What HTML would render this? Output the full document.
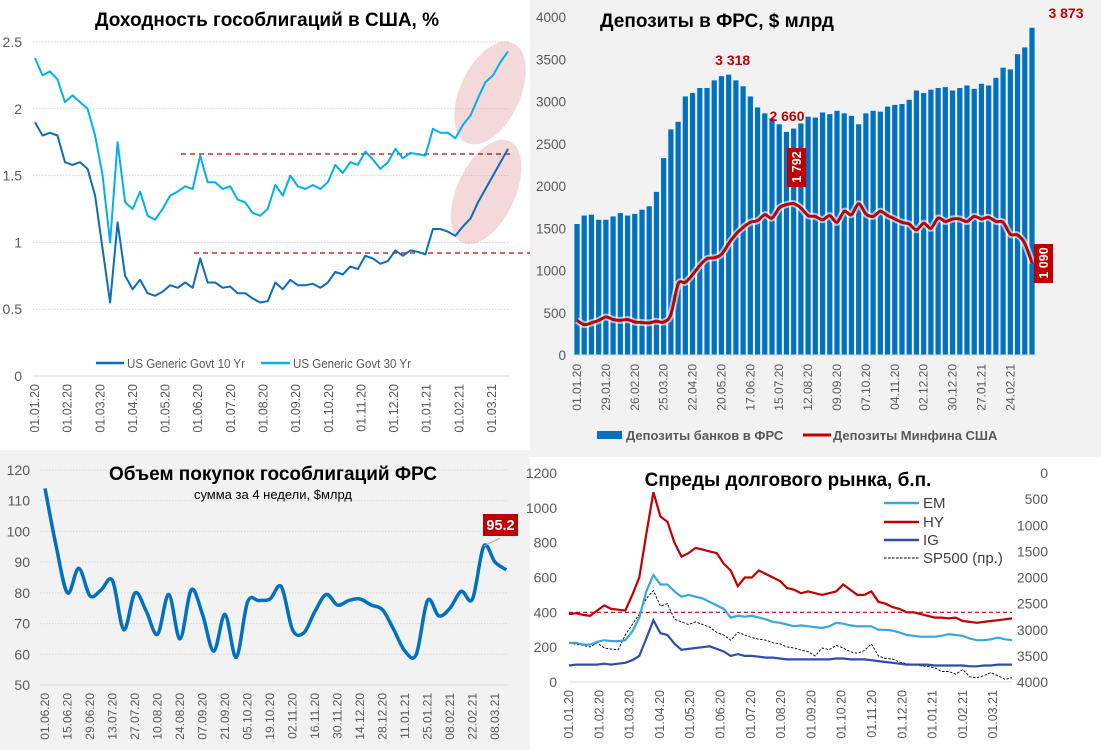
<!DOCTYPE html>
<html><head><meta charset="utf-8">
<style>
html,body{margin:0;padding:0;background:#fff;}
svg{display:block;font-family:"Liberation Sans","DejaVu Sans",sans-serif;}
</style></head>
<body>
<svg id="s" width="1101" height="750" viewBox="0 0 1101 750">
  <rect x="0" y="0" width="530" height="450" fill="#ffffff"/>
  <rect x="530" y="0" width="571" height="450" fill="#f2f2f2"/>
  <rect x="0" y="450" width="530" height="300" fill="#f2f2f2"/>
  <rect x="530" y="450" width="571" height="300" fill="#ffffff"/>
  <rect x="530" y="450" width="571" height="7" fill="#f2f2f2"/>
  <g id="g1"></g><g id="g2"></g><g id="g3"></g><g id="g4"></g>
  <text x="267" y="26" text-anchor="middle" font-size="19" font-weight="bold" fill="#000">Доходность гособлигаций в США, %</text>
  <text x="717" y="27" text-anchor="middle" font-size="19" font-weight="bold" fill="#000">Депозиты в ФРС, $ млрд</text>
  <text x="273" y="480" text-anchor="middle" font-size="19" font-weight="bold" fill="#000">Объем покупок гособлигаций ФРС</text>
  <text x="273" y="499" text-anchor="middle" font-size="13" fill="#000">сумма за 4 недели, $млрд</text>
  <text x="788" y="486" text-anchor="middle" font-size="19" font-weight="bold" fill="#000">Спреды долгового рынка, б.п.</text>
</svg>
<script>
// ---------- DATA ----------
const yDates = ["01.01.20","01.02.20","01.03.20","01.04.20","01.05.20","01.06.20","01.07.20","01.08.20","01.09.20","01.10.20","01.11.20","01.12.20","01.01.21","01.02.21","01.03.21"];
const y10 = [1.90,1.80,1.82,1.80,1.60,1.58,1.60,1.55,1.35,0.95,0.55,1.15,0.75,0.65,0.72,0.62,0.60,0.63,0.68,0.66,0.70,0.66,0.88,0.70,0.70,0.66,0.67,0.62,0.62,0.58,0.55,0.56,0.70,0.65,0.72,0.68,0.68,0.69,0.66,0.70,0.78,0.76,0.82,0.80,0.90,0.88,0.84,0.86,0.94,0.90,0.94,0.93,0.91,1.10,1.10,1.08,1.05,1.12,1.18,1.30,1.40,1.50,1.60,1.70];
const y30 = [2.38,2.25,2.28,2.22,2.05,2.10,2.05,2.00,1.80,1.50,1.00,1.75,1.30,1.25,1.38,1.20,1.17,1.25,1.35,1.38,1.42,1.40,1.65,1.45,1.45,1.40,1.42,1.32,1.30,1.22,1.20,1.25,1.43,1.35,1.50,1.42,1.40,1.43,1.40,1.45,1.58,1.52,1.60,1.58,1.68,1.62,1.55,1.60,1.70,1.63,1.67,1.66,1.65,1.85,1.82,1.82,1.78,1.88,1.95,2.08,2.20,2.25,2.35,2.43];
const yTicks = [0,0.5,1,1.5,2,2.5];
const yTickLabels = ["0","0.5","1","1.5","2","2.5"];

const dLabels = ["01.01.20","29.01.20","26.02.20","25.03.20","22.04.20","20.05.20","17.06.20","15.07.20","12.08.20","09.09.20","07.10.20","04.11.20","02.12.20","30.12.20","27.01.21","24.02.21"];
const bankDep = [1550,1650,1660,1600,1600,1640,1680,1650,1670,1720,1760,1930,2330,2670,2760,3060,3100,3160,3160,3250,3300,3318,3250,3180,3060,2930,2860,2800,2730,2640,2680,2740,2820,2810,2870,2850,2890,2860,2830,2730,2860,2890,2880,2940,2960,2970,3020,3130,3100,3140,3160,3170,3130,3160,3190,3150,3210,3190,3280,3400,3380,3560,3640,3873];
const tgaDep = [410,360,380,410,450,420,410,420,390,385,380,400,390,480,840,860,950,1060,1140,1150,1190,1320,1430,1510,1570,1590,1660,1620,1740,1780,1792,1740,1650,1640,1600,1650,1570,1700,1660,1790,1670,1640,1700,1650,1610,1570,1550,1480,1560,1500,1620,1580,1610,1610,1580,1640,1610,1630,1580,1570,1430,1420,1320,1090];
const dTicks = [0,500,1000,1500,2000,2500,3000,3500,4000];

const pLabels = ["01.06.20","15.06.20","29.06.20","13.07.20","27.07.20","10.08.20","24.08.20","07.09.20","21.09.20","05.10.20","19.10.20","02.11.20","16.11.20","30.11.20","14.12.20","28.12.20","11.01.21","25.01.21","08.02.21","22.02.21","08.03.21"];
const purchases = [114,95,80,88,79,81,84,68,80,74,66.5,79.5,65,81,73,61,73,59,77,77.5,78,82,68,67,74,79.5,76,77.5,78,76,74.5,68,61,60,77.5,72.5,75,80.5,78,95.2,90,87.5];
const pTicks = [50,60,70,80,90,100,110,120];

const sLabels = ["01.01.20","01.02.20","01.03.20","01.04.20","01.05.20","01.06.20","01.07.20","01.08.20","01.09.20","01.10.20","01.11.20","01.12.20","01.01.21","01.02.21","01.03.21"];
const hy = [390,395,385,380,410,440,420,415,410,500,600,850,1090,950,920,800,720,740,770,760,750,740,680,640,550,600,600,640,620,600,580,540,530,510,520,510,500,510,520,560,530,500,500,520,460,450,430,420,400,400,390,380,370,370,365,370,350,345,340,345,350,355,360,365];
const em = [225,225,215,215,230,240,235,235,240,290,370,520,615,560,560,520,490,500,490,480,460,440,420,370,380,375,380,370,360,345,340,330,320,325,320,315,310,320,340,335,325,320,320,320,300,300,295,285,270,265,260,260,260,265,275,270,265,250,240,240,245,255,245,240];
const ig = [95,100,100,100,100,105,100,105,110,125,150,250,355,280,270,220,185,190,195,200,205,190,175,150,160,150,150,145,140,140,135,130,130,130,130,130,130,130,135,135,130,130,130,125,120,115,110,105,100,100,100,100,95,95,95,95,95,90,90,95,95,100,100,100];
const sp500 = [3250,3280,3300,3330,3250,3350,3370,3380,3100,2900,2700,2400,2250,2550,2500,2800,2850,2900,2850,2900,2950,3050,3100,3200,3050,3100,3150,3180,3200,3250,3270,3330,3350,3390,3420,3500,3350,3380,3300,3350,3420,3450,3400,3270,3500,3550,3560,3620,3650,3660,3690,3700,3730,3800,3800,3850,3760,3900,3920,3880,3820,3880,3950,3920];
const sLeftTicks = [0,200,400,600,800,1000,1200];
const sRightTicks = [0,500,1000,1500,2000,2500,3000,3500,4000];

// ---------- HELPERS ----------
const NS = "http://www.w3.org/2000/svg";
function mk(parent, tag, attrs, txt){
  const e = document.createElementNS(NS, tag);
  for (const k in attrs) e.setAttribute(k, attrs[k]);
  if (txt !== undefined) e.textContent = txt;
  parent.appendChild(e);
  return e;
}
function poly(pts){ return pts.map((p,i)=>(i?"L":"M")+p[0].toFixed(1)+","+p[1].toFixed(1)).join(""); }
function smooth(pts){
  let d = "M"+pts[0][0].toFixed(1)+","+pts[0][1].toFixed(1);
  for (let i=0;i<pts.length-1;i++){
    const p0=pts[Math.max(0,i-1)], p1=pts[i], p2=pts[i+1], p3=pts[Math.min(pts.length-1,i+2)];
    const c1=[p1[0]+(p2[0]-p0[0])/6, p1[1]+(p2[1]-p0[1])/6];
    const c2=[p2[0]-(p3[0]-p1[0])/6, p2[1]-(p3[1]-p1[1])/6];
    d += "C"+c1[0].toFixed(1)+","+c1[1].toFixed(1)+" "+c2[0].toFixed(1)+","+c2[1].toFixed(1)+" "+p2[0].toFixed(1)+","+p2[1].toFixed(1);
  }
  return d;
}
const GRAY = "#595959";

// ---------- PANEL 1: yields ----------
const g1 = document.getElementById("g1");
const x1 = i => 35 + i*(508-35)/(y10.length-1);
const xm1 = m => 35 + m*32.64;
const y1 = v => 376 - v*(376-42)/2.5;
yTicks.forEach((t,k)=>{
  const l = mk(g1,"line",{x1:33,x2:510,y1:y1(t),y2:y1(t),stroke:t===0?"#d9d9d9":"#d0d0d0","stroke-dasharray":t===0?"none":"1.5,1.5","stroke-width":1});
  
  
  const tx = mk(g1,"text",{x:22,y:y1(t)+5,"text-anchor":"end","font-size":14,fill:GRAY},yTickLabels[k]);
  
  
});
yDates.forEach((d,m)=>{
  const tx = mk(g1,"text",{transform:`translate(${xm1(m)+4},384) rotate(-90)`,"text-anchor":"end","font-size":12.5,fill:GRAY},d);
  
  
});
const e1 = mk(g1,"ellipse",{cx:490,cy:93,rx:30,ry:55,transform:"rotate(25 490 93)",fill:"#e8b4b4","fill-opacity":0.5});


const e2 = mk(g1,"ellipse",{cx:486,cy:192,rx:29,ry:56,transform:"rotate(25 486 192)",fill:"#e8b4b4","fill-opacity":0.5});


const r1 = mk(g1,"line",{x1:181,x2:513,y1:154,y2:154,stroke:"#c00000","stroke-dasharray":"5,4","stroke-width":1.2});


const r2 = mk(g1,"line",{x1:194,x2:530,y1:253,y2:253,stroke:"#c00000","stroke-dasharray":"5,4","stroke-width":1.2});


const l30 = mk(g1,"path",{d:poly(y30.map((v,i)=>[x1(i),y1(v)])),fill:"none",stroke:"#00b0f0","stroke-width":2,"stroke-linejoin":"round"});


const l10 = mk(g1,"path",{d:poly(y10.map((v,i)=>[x1(i),y1(v)])),fill:"none",stroke:"#0a6ebd","stroke-width":2,"stroke-linejoin":"round"});


const lg1 = mk(g1,"line",{x1:96,x2:124,y1:363,y2:363,stroke:"#0a6ebd","stroke-width":2.5});


const lt1 = mk(g1,"text",{x:127,y:368,"font-size":13,fill:GRAY,textLength:118,lengthAdjust:"spacingAndGlyphs"},"US Generic Govt 10 Yr");


const lg2 = mk(g1,"line",{x1:261,x2:290,y1:363,y2:363,stroke:"#00b0f0","stroke-width":2.5});


const lt2 = mk(g1,"text",{x:293,y:368,"font-size":13,fill:GRAY,textLength:118,lengthAdjust:"spacingAndGlyphs"},"US Generic Govt 30 Yr");



// ---------- PANEL 2: deposits ----------
const g2 = document.getElementById("g2");
const x2 = i => 577 + i*(1032-577)/(bankDep.length-1);
const y2 = v => 355 - v*(355-17)/4000;
dTicks.forEach(t=>{
  const tx = mk(g2,"text",{x:566,y:y2(t)+5,"text-anchor":"end","font-size":13.5,fill:GRAY},String(t));
  
  
});
bankDep.forEach((v,i)=>{
  const b = mk(g2,"rect",{x:x2(i)-2.6,y:y2(v),width:5.2,height:y2(0)-y2(v),fill:"#0070c0"});
  
  
});
const ax2 = mk(g2,"line",{x1:573,x2:1036,y1:355,y2:355,stroke:"#d9d9d9","stroke-width":1});


dLabels.forEach((d,k)=>{
  const tx = mk(g2,"text",{transform:`translate(${x2(k*4)+4},364) rotate(-90)`,"text-anchor":"end","font-size":12,fill:GRAY},d);
  
  
});
const tpts = tgaDep.map((v,i)=>[x2(i),y2(v)]);
const glow = mk(g2,"path",{d:smooth(tpts),fill:"none",stroke:"#ffffff","stroke-opacity":0.6,"stroke-width":7});


const tl = mk(g2,"path",{d:smooth(tpts),fill:"none",stroke:"#c00000","stroke-width":3});


const a1 = mk(g2,"text",{x:x2(21)+4,y:65,"text-anchor":"middle","font-size":14,"font-weight":"bold",fill:"#c00000"},"3 318");


const a2 = mk(g2,"text",{x:787,y:121,"text-anchor":"middle","font-size":14,"font-weight":"bold",fill:"#c00000"},"2 660");


const a3 = mk(g2,"text",{x:1066,y:18,"text-anchor":"middle","font-size":14,"font-weight":"bold",fill:"#c00000"},"3 873");


const bx1 = mk(g2,"rect",{x:787,y:148,width:19,height:39,fill:"#c00000"});


const bt1 = mk(g2,"text",{transform:"translate(801,167) rotate(-90)","text-anchor":"middle","font-size":12.5,"font-weight":"bold",fill:"#fff"},"1 792");


const bx2 = mk(g2,"rect",{x:1034,y:244,width:19,height:39,fill:"#c00000"});


const bt2 = mk(g2,"text",{transform:"translate(1048,263) rotate(-90)","text-anchor":"middle","font-size":12.5,"font-weight":"bold",fill:"#fff"},"1 090");


const lgb = mk(g2,"rect",{x:597,y:431,width:25,height:8,fill:"#0070c0"});


const lgbt = mk(g2,"text",{x:626,y:440,"font-size":13,"font-weight":"bold",fill:GRAY},"Депозиты банков в ФРС");


const lgr = mk(g2,"line",{x1:803,x2:831,y1:435,y2:435,stroke:"#c00000","stroke-width":3});


const lgrt = mk(g2,"text",{x:833,y:440,"font-size":13,"font-weight":"bold",fill:GRAY},"Депозиты Минфина США");



// ---------- PANEL 3: purchases ----------
const g3 = document.getElementById("g3");
const x3 = i => 45 + i*11.25;
const y3 = v => 685 - (v-50)*(685-470)/70;
pTicks.forEach(t=>{
  const l = mk(g3,"line",{x1:40,x2:508,y1:y3(t),y2:y3(t),stroke:t===50?"#d9d9d9":"#d4d4d4","stroke-dasharray":t===50?"none":"1.5,1.5"});
  
  
  const tx = mk(g3,"text",{x:30,y:y3(t)+5,"text-anchor":"end","font-size":14,fill:GRAY},String(t));
  
  
});
pLabels.forEach((d,k)=>{
  const tx = mk(g3,"text",{transform:`translate(${x3(k*2)+4},693) rotate(-90)`,"text-anchor":"end","font-size":12,fill:GRAY},d);
  
  
});
const pl = mk(g3,"path",{d:smooth(purchases.map((v,i)=>[x3(i),y3(v)])),fill:"none",stroke:"#0070c0","stroke-width":3.5,"stroke-linejoin":"round"});


const pk = purchases.indexOf(Math.max(...purchases.slice(30)));
const ld = mk(g3,"line",{x1:x3(pk),y1:y3(purchases[pk]),x2:x3(pk)+16,y2:y3(purchases[pk])-8,stroke:"#a6a6a6","stroke-width":1});


const pb = mk(g3,"rect",{x:483,y:514,width:35,height:22,fill:"#c00000"});


const pt = mk(g3,"text",{x:500.5,y:530,"text-anchor":"middle","font-size":14.5,"font-weight":"bold",fill:"#fff"},String(purchases[pk]));



// ---------- PANEL 4: spreads ----------
const g4 = document.getElementById("g4");
const x4 = i => 569 + i*(1012-569)/(hy.length-1);
const xm4 = m => 569 + m*30.3;
const y4 = v => 682 - v*(682-473)/1200;
const y4r = v => 473 + v*(682-473)/4000;
sLeftTicks.forEach(t=>{
  const tx = mk(g4,"text",{x:557,y:y4(t)+5,"text-anchor":"end","font-size":14,fill:GRAY},String(t));
  
  
});
sRightTicks.forEach(t=>{
  const tx = mk(g4,"text",{x:1048,y:y4r(t)+5,"text-anchor":"end","font-size":14,fill:GRAY},String(t));
  
  
});
const ax4 = mk(g4,"line",{x1:569,x2:1012,y1:682,y2:682,stroke:"#d9d9d9"});


sLabels.forEach((d,m)=>{
  const tx = mk(g4,"text",{transform:`translate(${xm4(m)+4},690) rotate(-90)`,"text-anchor":"end","font-size":12.5,fill:GRAY},d);
  
  
});
const rd = mk(g4,"line",{x1:569,x2:1012,y1:y4(400),y2:y4(400),stroke:"#c00000","stroke-dasharray":"4,3","stroke-width":1.2});


const spl = mk(g4,"path",{d:poly(sp500.map((v,i)=>[x4(i),y4r(v)])),fill:"none",stroke:"#000","stroke-width":0.9,"stroke-dasharray":"2.5,1.5"});


const igl = mk(g4,"path",{d:poly(ig.map((v,i)=>[x4(i),y4(v)])),fill:"none",stroke:"#2f4ea8","stroke-width":2.2});


const eml = mk(g4,"path",{d:poly(em.map((v,i)=>[x4(i),y4(v)])),fill:"none",stroke:"#38a8dc","stroke-width":2.2});


const hyl = mk(g4,"path",{d:poly(hy.map((v,i)=>[x4(i),y4(v)])),fill:"none",stroke:"#c00000","stroke-width":2.2});


const lgE = mk(g4,"line",{x1:884,x2:919,y1:503,y2:503,stroke:"#38a8dc","stroke-width":2.5});


const ltE = mk(g4,"text",{x:923,y:508,"font-size":15,fill:"#404040"},"EM");


const lgH = mk(g4,"line",{x1:884,x2:919,y1:522,y2:522,stroke:"#c00000","stroke-width":2.5});


const ltH = mk(g4,"text",{x:923,y:527,"font-size":15,fill:"#404040"},"HY");


const lgI = mk(g4,"line",{x1:884,x2:919,y1:540,y2:540,stroke:"#2f4ea8","stroke-width":2.5});


const ltI = mk(g4,"text",{x:923,y:545,"font-size":15,fill:"#404040"},"IG");


const lgS = mk(g4,"line",{x1:884,x2:919,y1:558,y2:558,stroke:"#000","stroke-width":1,"stroke-dasharray":"2.5,1.5"});


const ltS = mk(g4,"text",{x:923,y:563,"font-size":15,fill:"#404040"},"SP500 (пр.)");


</script>
</body></html>
